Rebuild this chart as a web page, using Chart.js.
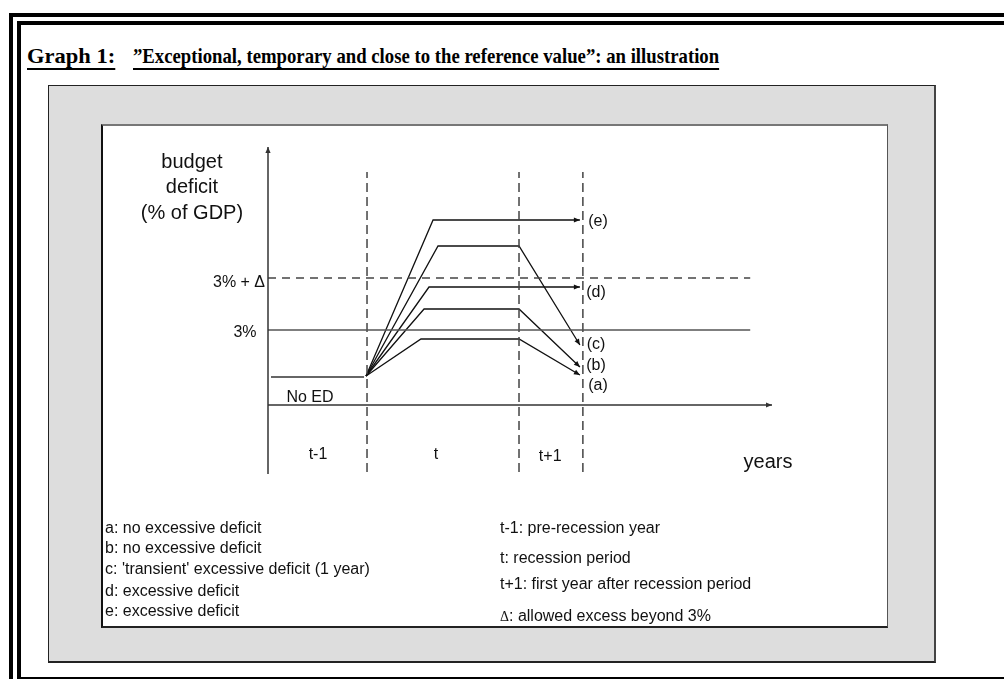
<!DOCTYPE html>
<html>
<head>
<meta charset="utf-8">
<script src="https://cdn.jsdelivr.net/npm/chart.js@4"></script>
<style>
  body { margin: 0; background: #fff; width: 1004px; height: 679px; overflow: hidden; position: relative; }
  .abs { position: absolute; box-sizing: border-box; }
  .ttl { top: 45px; font: bold 21px "Liberation Serif", serif; line-height: 22px; white-space: nowrap; color: #000;
         text-decoration: underline; text-decoration-thickness: 2px; text-underline-offset: 5px; transform-origin: 0 0; }
  .note { font: 16px "Liberation Sans", Arial, sans-serif; color: #111; white-space: nowrap; line-height: 18px; }
  .delta { font: 14px "Liberation Serif", serif; }
</style>
</head>
<body>
<div class="abs" style="left:9px;top:13px;width:995px;height:666px;border-top:4px solid #000;border-left:4px solid #000;"></div>
<div class="abs" style="left:17px;top:21px;width:987px;height:658px;border-top:4px solid #000;border-left:4px solid #000;border-bottom:2px solid #000;"></div>
<div class="abs" style="left:48px;top:85px;width:888px;height:578px;background:#dddddd;border:1px solid #222;border-right:2px solid #444;border-bottom:2px solid #222;"></div>
<div class="abs" style="left:101px;top:124px;width:787px;height:504px;background:#fff;border-left:2px solid #111;border-top:2px solid #777;border-right:1px solid #555;border-bottom:2px solid #222;"></div>
<div id="graphNo" class="abs ttl" style="left:27px;">Graph 1:</div>
<div id="quote" class="abs ttl" style="left:133px;">”Exceptional, temporary and close to the reference value”: an illustration</div>
<canvas id="diagram" class="abs" style="left:0;top:0;" width="1004" height="679"></canvas>
<div id="notes"></div>

<script>
// the five cases (budget deficit in % of GDP, time in years from the axis)
var caseA = [[0.99, 1.16], [1.545, 2.64], [2.535, 2.64], [3.15, 1.2]];
var caseB = [[0.99, 1.16], [1.576, 3.84], [2.535, 3.84], [3.15, 1.52]];
var caseC = [[0.99, 1.16], [1.717, 6.36], [2.535, 6.36], [3.15, 2.4]];
var caseD = [[0.99, 1.16], [1.626, 4.72], [3.15, 4.72]];
var caseE = [[0.99, 1.16], [1.667, 7.4], [3.15, 7.4]];
var preRecession = [[0.03, 1.12], [0.97, 1.12]];

var refValue = 3;        // 3%
var delta = 2.08;        // allowed excess
var periodEnds = [1.0, 2.535, 3.18];
var periods = ['t-1', 't', 't+1'];
var periodLabelX = [0.505, 1.697, 2.85];
var caseNames = ['(a)', '(b)', '(c)', '(d)', '(e)'];
var caseLabelY = [0.76, 1.56, 2.4, 4.48, 7.32];

var xMax = 5.09, yMin = -2.76, yMax = 10.32, lineEnd = 4.87;

var notesLeft = ['a: no excessive deficit', 'b: no excessive deficit', "c: 'transient' excessive deficit (1 year)", 'd: excessive deficit', 'e: excessive deficit'];
var notesLeftY = [528, 548, 569, 591, 611];
var notesRight = ['t-1: pre-recession year', 't: recession period', 't+1: first year after recession period', ': allowed excess beyond 3%'];
var notesRightY = [528, 558, 584, 616];

// title is condensed in the original
var q = document.getElementById('quote');
q.style.transform = 'scaleX(' + (586 / q.offsetWidth) + ')';
var g = document.getElementById('graphNo');
g.style.transform = 'scaleX(' + (88 / g.offsetWidth) + ')';

function pts(arr) { return arr.map(function (p) { return {x: p[0], y: p[1]}; }); }

var datasets = [];
function line(data, opts) {
  var ds = Object.assign({
    data: pts(data), borderColor: '#111', borderWidth: 1.3, pointRadius: 0,
    tension: 0, fill: false, clip: false
  }, opts || {});
  datasets.push(ds);
}

// axes
line([[0, yMin], [0, yMax]], {borderColor: '#333', borderWidth: 1.5, arrow: true});
line([[0, 0], [xMax, 0]], {borderColor: '#333', borderWidth: 1.5, arrow: true});
// reference lines
line([[0, refValue], [lineEnd, refValue]], {borderColor: '#555', borderWidth: 1.5});
line([[0, refValue + delta], [lineEnd, refValue + delta]], {borderColor: '#444', borderWidth: 1.5, borderDash: [8, 6]});
periodEnds.forEach(function (x) {
  line([[x, -2.68], [x, 9.32]], {borderColor: '#444', borderWidth: 1.5, borderDash: [9, 5]});
});
line(preRecession, {borderColor: '#333', borderWidth: 1.5});
[caseA, caseB, caseC, caseD, caseE].forEach(function (c) { line(c, {arrow: true}); });

// text placed in data units
var labels = [
  {t: 'budget', x: -0.768, y: 9.72, size: 20},
  {t: 'deficit', x: -0.768, y: 8.72, size: 20},
  {t: '(% of GDP)', x: -0.768, y: 7.68, size: 20},
  {t: '3% + Δ', x: -0.03, y: refValue + delta - 0.18, size: 16, align: 'right'},
  {t: '3%', x: -0.232, y: refValue - 0.12, size: 16},
  {t: 'No ED', x: 0.424, y: 0.3, size: 16},
  {t: 'years', x: 5.05, y: -2.28, size: 20}
];
periods.forEach(function (p, i) { labels.push({t: p, x: periodLabelX[i], y: i === 2 ? -2.08 : -2.0, size: 16}); });
caseNames.forEach(function (n, i) { labels.push({t: n, x: i === 0 || i === 4 ? 3.333 : 3.313, y: caseLabelY[i], size: 16}); });

var arrowPlugin = {
  id: 'arrows',
  afterDatasetsDraw: function (chart) {
    var c = chart.ctx;
    chart.data.datasets.forEach(function (ds, i) {
      if (!ds.arrow) return;
      var el = chart.getDatasetMeta(i).data;
      var a = el[el.length - 2], b = el[el.length - 1];
      var ang = Math.atan2(b.y - a.y, b.x - a.x);
      c.save();
      c.translate(b.x, b.y);
      c.rotate(ang);
      c.fillStyle = ds.borderColor;
      c.beginPath();
      c.moveTo(0, 0);
      c.lineTo(-6, -2.6);
      c.lineTo(-6, 2.6);
      c.closePath();
      c.fill();
      c.restore();
    });
    var xs = chart.scales.x, ys = chart.scales.y;
    c.save();
    c.fillStyle = '#111';
    c.textBaseline = 'middle';
    labels.forEach(function (l) {
      c.font = l.size + 'px "Liberation Sans", Arial, sans-serif';
      c.textAlign = l.align || 'center';
      c.fillText(l.t, xs.getPixelForValue(l.x), ys.getPixelForValue(l.y));
    });
    c.restore();
  }
};

new Chart(document.getElementById('diagram'), {
  type: 'line',
  data: {datasets: datasets},
  options: {
    responsive: false,
    animation: false,
    layout: {padding: {left: 268, right: 1004 - 772, top: 147, bottom: 679 - 474}},
    scales: {
      x: {type: 'linear', min: 0, max: xMax, display: false},
      y: {type: 'linear', min: yMin, max: yMax, display: false}
    },
    plugins: {legend: {display: false}, tooltip: {enabled: false}}
  },
  plugins: [arrowPlugin]
});

// notes under the diagram
var notes = document.getElementById('notes');
function note(txt, x, y, delta) {
  var d = document.createElement('div');
  d.className = 'abs note';
  d.style.left = x + 'px';
  d.style.top = (y - 9) + 'px';
  if (delta) {
    var s = document.createElement('span');
    s.className = 'delta';
    s.textContent = 'Δ';
    d.appendChild(s);
  }
  d.appendChild(document.createTextNode(txt));
  notes.appendChild(d);
}
notesLeft.forEach(function (t, i) { note(t, 105, notesLeftY[i]); });
notesRight.forEach(function (t, i) { note(t, 500, notesRightY[i], i === 3); });
</script>
</body>
</html>
